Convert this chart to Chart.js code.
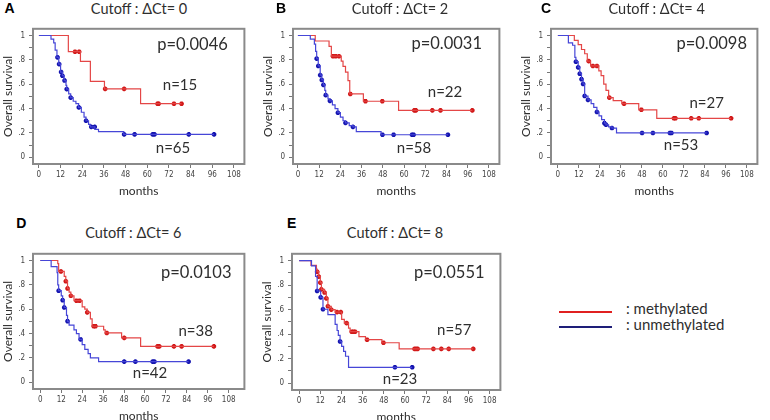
<!DOCTYPE html>
<html><head><meta charset="utf-8">
<script src="https://cdn.jsdelivr.net/npm/chart.js@4"></script>
<style>
body{margin:0;background:#fff;width:770px;height:420px;position:relative;overflow:hidden;font-family:Lato,'Open Sans',sans-serif;}
.box{position:absolute;}
.t{position:absolute;transform:translate(-50%,-50%);line-height:1;white-space:nowrap;color:#2e2e2e;}
.lt{position:absolute;transform:translate(0,-50%);line-height:1;white-space:nowrap;color:#2e2e2e;font-size:15px;}
.letter{font:bold 14px 'Liberation Sans',Arial,sans-serif;color:#000;}
.ln{position:absolute;height:0;border-top:2px solid;}
</style></head><body>
<script>
// ---------- tick values ----------
const monthTicks = [0, 12, 24, 36, 48, 60, 72, 84, 96, 108];
const survTicks = [0, 0.1, 0.2, 0.3, 0.4, 0.5, 0.6, 0.7, 0.8, 0.9, 1];
const survTickLabels = ['0', '', '.2', '', '.4', '', '.6', '', '.8', '', '1'];

// ---------- panel texts ----------
const panelLetters = ['A', 'B', 'C', 'D', 'E'];
const cutoffs = [0, 2, 4, 6, 8];
const pValues = ['0.0046', '0.0031', '0.0098', '0.0103', '0.0551'];
const nMet = [15, 22, 27, 38, 57];
const nUnm = [65, 58, 53, 42, 23];

// ---------- survival curves: [month, survival] ----------
const A_met = [[0,1],[16.3,0.867],[23,0.787],[28.5,0.624],[36.3,0.562],[56.3,0.44],[79,0.44]];
const A_metCens = [[20,0.867],[22.3,0.867],[36.7,0.562],[47.2,0.562],[65.7,0.44],[66.3,0.44],[74.8,0.44],[79,0.44]];
const A_unm = [[0,1],[6.7,0.97],[8.2,0.94],[9,0.88],[10,0.82],[11,0.765],[12,0.70],[13,0.67],[14,0.63],[15,0.59],[15.4,0.56],[16.5,0.52],[17.6,0.49],[19,0.46],[20.5,0.44],[22,0.41],[23.5,0.37],[25,0.33],[26.1,0.30],[27.5,0.27],[28.5,0.25],[31,0.23],[33,0.21],[47,0.188],[97,0.188]];
const A_unmCens = [[10.3,0.82],[11.2,0.765],[12.3,0.70],[13,0.67],[14.2,0.63],[15.4,0.56],[17.6,0.49],[22.1,0.41],[26.1,0.30],[29,0.25],[30.9,0.25],[47.2,0.188],[53,0.188],[63,0.188],[64,0.188],[83,0.188],[97,0.188]];

const B_met = [[0,1],[9.8,0.955],[17.6,0.91],[18.9,0.83],[24.5,0.79],[25.5,0.746],[26.9,0.70],[28.3,0.63],[29.3,0.52],[37,0.46],[56.9,0.385],[98.6,0.385]];
const B_metCens = [[19.8,0.83],[21.3,0.83],[23.2,0.83],[29.6,0.52],[38.2,0.46],[47.7,0.46],[65.8,0.385],[66.7,0.385],[76,0.385],[80.6,0.385],[98.6,0.385]];
const B_unm = [[0,1],[7,0.97],[9.3,0.93],[10,0.87],[10.6,0.81],[11.5,0.75],[12.6,0.675],[13.5,0.635],[14.4,0.595],[15.2,0.55],[15.7,0.51],[17,0.48],[18.1,0.463],[19.5,0.43],[21,0.40],[22.6,0.366],[24,0.33],[25.5,0.30],[26.9,0.283],[29,0.26],[31.1,0.25],[33,0.21],[47,0.185],[84.8,0.185]];
const B_unmCens = [[10.6,0.81],[11.5,0.75],[12.6,0.675],[13.5,0.635],[14.4,0.595],[15.7,0.51],[18.1,0.463],[22.6,0.366],[26.9,0.283],[31.1,0.25],[47.8,0.185],[54.1,0.185],[64.5,0.185],[65.4,0.185],[84.8,0.185]];

const C_met = [[0,1],[9.4,0.96],[11.6,0.925],[13.5,0.885],[15.3,0.85],[16.8,0.79],[18.7,0.75],[23.4,0.71],[24.7,0.67],[26.2,0.60],[27.5,0.55],[29,0.49],[31.6,0.465],[36.5,0.44],[46.2,0.39],[56.5,0.32],[99,0.32]];
const C_metCens = [[17.6,0.79],[20,0.75],[22.3,0.75],[29.4,0.49],[37.8,0.44],[47.7,0.39],[66.3,0.32],[67.2,0.32],[76.2,0.32],[80.5,0.32],[99,0.32]];
const C_unm = [[0,1],[6,0.94],[8.4,0.92],[9.7,0.82],[10.3,0.785],[11.6,0.738],[12.5,0.686],[13.5,0.641],[14.4,0.602],[15.3,0.503],[17.2,0.471],[19,0.44],[20.5,0.41],[22.3,0.372],[23.5,0.34],[25,0.31],[26.6,0.28],[27.5,0.267],[29,0.25],[30.9,0.24],[33.5,0.2],[85,0.2]];
const C_unmCens = [[10.3,0.785],[11.6,0.738],[12.5,0.686],[13.5,0.641],[14.4,0.602],[15.3,0.503],[17.2,0.471],[22.3,0.372],[26.6,0.28],[27.5,0.267],[30.9,0.24],[48.1,0.2],[54.3,0.2],[64,0.2],[64.9,0.2],[85,0.2]];

const D_met = [[0,1],[10,0.975],[10.5,0.91],[13.7,0.87],[14.6,0.83],[15.6,0.77],[16.5,0.74],[17.5,0.71],[19.3,0.67],[24,0.62],[25.5,0.60],[26.9,0.574],[28.7,0.52],[29.7,0.46],[36.3,0.43],[37.2,0.405],[46.6,0.365],[57.5,0.295],[99.5,0.295]];
const D_metCens = [[11.8,0.91],[14.6,0.83],[15.6,0.77],[17.5,0.71],[20.7,0.67],[22.5,0.67],[26.9,0.574],[30.6,0.46],[31.6,0.46],[38.1,0.405],[48.1,0.365],[67.2,0.295],[68.2,0.295],[76.6,0.295],[81,0.295],[99.5,0.295]];
const D_unm = [[0,1],[6.2,0.95],[9.6,0.90],[10,0.80],[10.5,0.752],[12,0.71],[12.8,0.674],[13.7,0.614],[15,0.55],[15.6,0.501],[16.5,0.47],[19.3,0.43],[20.7,0.40],[22.2,0.352],[24,0.31],[25.5,0.27],[27.4,0.235],[28.7,0.20],[33.4,0.17],[85,0.17]];
const D_unmCens = [[10.5,0.752],[12.8,0.674],[13.7,0.614],[15.6,0.501],[23.1,0.352],[48.1,0.17],[54.5,0.17],[64.4,0.17],[65.4,0.17],[85,0.17]];

const E_met = [[0,1],[6.7,0.96],[9.8,0.93],[10.2,0.909],[11.1,0.869],[12,0.82],[12.6,0.765],[14.4,0.739],[15.4,0.692],[16.3,0.627],[18.2,0.60],[20.4,0.58],[24.1,0.52],[25.6,0.49],[28,0.45],[28.9,0.42],[33.9,0.38],[37.6,0.355],[46.9,0.33],[56.7,0.28],[98.7,0.28]];
const E_metCens = [[10.2,0.909],[11.1,0.869],[12,0.82],[12.6,0.765],[14.4,0.739],[15.4,0.692],[16.3,0.627],[18.2,0.60],[21.5,0.58],[23.6,0.58],[26.9,0.49],[29.8,0.42],[30.8,0.42],[31.7,0.42],[38.5,0.355],[47.8,0.33],[65.4,0.28],[66.3,0.28],[67.2,0.28],[76.1,0.28],[80.6,0.28],[84.8,0.28],[98.7,0.28]];
const E_unm = [[0,1],[7,0.957],[9.3,0.87],[10.2,0.752],[12.2,0.70],[13.5,0.603],[16.3,0.56],[20.4,0.48],[21.5,0.43],[22.2,0.39],[23.2,0.34],[24.1,0.30],[25.2,0.26],[26.3,0.22],[28,0.13],[64.1,0.13]];
const E_unmCens = [[10.2,0.752],[12.2,0.70],[13.5,0.603],[23.2,0.34],[54.3,0.13],[64.1,0.13]];

// ---------- layout (positions only) ----------
const panelLayout = [
  {frame:[33,22,248,164],  xr:[-3.27,113.8], letter:[9.5,7.5],   title:[139,8.5],   p:[192.5,44],  nm:[180,84],    nu:[173,147]},
  {frame:[293,22,503,164], xr:[-2.78,113.9], letter:[281,8],     title:[400,8.5],   p:[446.7,43.3],nm:[445,91],    nu:[414,147]},
  {frame:[551,22,761,164], xr:[-3.93,114],   letter:[546,7.5],   title:[656.7,8.5], p:[711.7,43.3],nm:[706.7,102], nu:[681,144.3]},
  {frame:[33,247,248,389], xr:[-4.2,117],    letter:[21.3,223.3],title:[133.3,232.5],p:[196.2,271.7],nm:[195.7,330],nu:[150,371.7]},
  {frame:[292,247,504,390],xr:[-4.06,114.1], letter:[291.7,222.5],title:[395,232.5],p:[449.3,272], nm:[454.3,329.3],nu:[400,377.7]}
];
const curves = [
  [A_met, A_metCens, A_unm, A_unmCens],
  [B_met, B_metCens, B_unm, B_unmCens],
  [C_met, C_metCens, C_unm, C_unmCens],
  [D_met, D_metCens, D_unm, D_unmCens],
  [E_met, E_metCens, E_unm, E_unmCens]
];

const RED_LINE = 'rgb(228,70,70)', RED_MARK = 'rgb(210,25,25)';
const BLUE_LINE = 'rgb(70,70,215)', BLUE_MARK = 'rgb(20,20,175)';
const TICK_FONT = "'Liberation Sans Narrow','DejaVu Sans Condensed',sans-serif";

const framePlugin = {
  id: 'frame',
  afterDatasetsDraw(chart) {
    const {ctx, chartArea: a} = chart;
    ctx.save();
    ctx.strokeStyle = '#8a8a8a';
    ctx.lineWidth = 2;
    ctx.strokeRect(a.left, a.top, a.right - a.left, a.bottom - a.top);
    ctx.restore();
  }
};

function addText(cls, txt, x, y, size) {
  const d = document.createElement('div');
  d.className = cls;
  d.textContent = txt;
  d.style.left = x + 'px';
  d.style.top = y + 'px';
  if (size) d.style.fontSize = size + 'px';
  document.body.appendChild(d);
}

const pts = arr => arr.map(([x, y]) => ({x, y}));

panelLayout.forEach((L, i) => {
  const [fl, ft, fr, fb] = L.frame;
  const left = fl - 33, top = ft - 2;
  const div = document.createElement('div');
  div.className = 'box';
  div.style.left = left + 'px';
  div.style.top = top + 'px';
  div.style.width = (fr - left + 2) + 'px';
  div.style.height = (fb + 34 - top) + 'px';
  const cv = document.createElement('canvas');
  div.appendChild(cv);
  document.body.appendChild(div);

  const [met, metC, unm, unmC] = curves[i];
  new Chart(cv, {
    type: 'scatter',
    data: {
      datasets: [
        {type: 'line', data: pts(unm), stepped: true, borderColor: BLUE_LINE, borderWidth: 1.2, pointRadius: 0, fill: false},
        {type: 'line', data: pts(met), stepped: true, borderColor: RED_LINE, borderWidth: 1.2, pointRadius: 0, fill: false},
        {type: 'scatter', data: pts(unmC), pointStyle: 'star', pointRadius: 2.3, borderWidth: 1.6, borderColor: BLUE_MARK, backgroundColor: BLUE_MARK},
        {type: 'scatter', data: pts(metC), pointStyle: 'star', pointRadius: 2.3, borderWidth: 1.6, borderColor: RED_MARK, backgroundColor: RED_MARK}
      ]
    },
    options: {
      responsive: true, maintainAspectRatio: false, animation: false, devicePixelRatio: 1,
      layout: {padding: {top: 2, right: 2, left: 0, bottom: 0}},
      plugins: {legend: {display: false}, tooltip: {enabled: false}, title: {display: false}},
      events: [],
      scales: {
        x: {
          type: 'linear', min: L.xr[0], max: L.xr[1],
          afterBuildTicks: s => { s.ticks = monthTicks.map(v => ({value: v})); },
          afterFit: s => { s.height = 34; },
          ticks: {font: {size: 8, family: TICK_FONT}, color: '#444', padding: 2, maxRotation: 0, autoSkip: false,
                  callback: v => String(v)},
          grid: {drawOnChartArea: false, drawTicks: true, tickLength: 4, color: '#777'},
          border: {display: false},
          title: {display: true, text: 'months', font: {size: 12, family: 'Lato'}, color: '#2e2e2e', padding: {top: 0, bottom: 0}}
        },
        y: {
          type: 'linear', min: -0.055, max: 1.055,
          afterBuildTicks: s => { s.ticks = survTicks.map(v => ({value: v})); },
          afterFit: s => { s.width = 33; },
          ticks: {font: {size: 8, family: TICK_FONT}, color: '#444', padding: 4, autoSkip: false,
                  callback: v => survTickLabels[survTicks.findIndex(t => Math.abs(t - v) < 1e-6)]},
          grid: {drawOnChartArea: false, drawTicks: true, tickLength: 4, color: '#777'},
          border: {display: false},
          title: {display: true, text: 'Overall survival', font: {size: 12, family: 'Lato'}, color: '#2e2e2e', padding: {top: 1, bottom: 0}}
        }
      }
    },
    plugins: [framePlugin]
  });

  addText('t letter', panelLetters[i], L.letter[0], L.letter[1]);
  addText('t', 'Cutoff : \u0394Ct= ' + cutoffs[i], L.title[0], L.title[1], 14.5);
  addText('t', 'p=' + pValues[i], L.p[0], L.p[1], 16.5);
  addText('t', 'n=' + nMet[i], L.nm[0], L.nm[1], 15);
  addText('t', 'n=' + nUnm[i], L.nu[0], L.nu[1], 15);
});

// legend
const legendItems = [[': methylated', 'rgb(224,32,32)', 312, 308], [': unmethylated', 'rgb(30,30,120)', 327, 323.5]];
legendItems.forEach(([txt, col, ly, ty]) => {
  const l = document.createElement('div');
  l.className = 'ln';
  l.style.left = '559px'; l.style.top = (ly - 1) + 'px'; l.style.width = '53px';
  l.style.borderTopColor = col;
  document.body.appendChild(l);
  addText('lt', txt, 626, ty);
});
</script>
</body></html>
